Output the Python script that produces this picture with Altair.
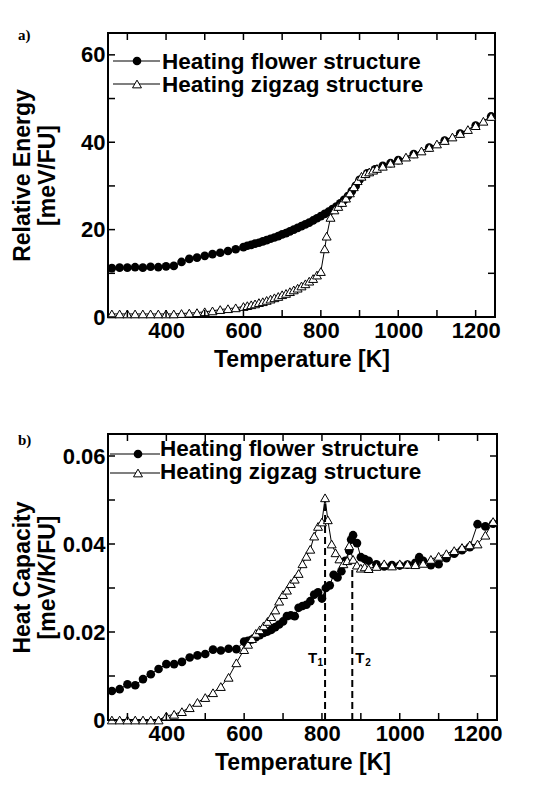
import altair as alt
import pandas as pd

FONT = "Liberation Sans"

# ---------------- panel a: relative energy vs temperature ----------------
temp_flower_a = [260, 280, 300, 320, 340, 360, 380, 400, 420, 440, 460, 480, 500,
                 520, 540, 560, 580, 600, 610, 620, 630, 640, 650, 660, 670, 680,
                 690, 700, 710, 720, 730, 740, 750, 760, 770, 780, 790, 800, 810,
                 820, 830, 840, 850, 860, 870, 880, 890, 900, 920, 940, 960, 980,
                 1000, 1040, 1080, 1120, 1160, 1200, 1240]
energy_flower_a = [11.2, 11.3, 11.3, 11.4, 11.3, 11.5, 11.4, 11.6, 11.7, 12.6, 13.3,
                   13.6, 14.0, 14.4, 14.7, 15.1, 15.5, 16.0, 16.3, 16.5, 16.8, 17.0,
                   17.3, 17.6, 17.9, 18.2, 18.5, 18.9, 19.2, 19.6, 20.0, 20.4, 20.8,
                   21.2, 21.6, 22.1, 22.6, 23.1, 23.6, 24.1, 24.7, 25.3, 26.0, 26.8,
                   27.7, 28.8, 30.0, 31.4, 32.9, 33.8, 34.6, 35.2, 35.9, 37.3, 38.8,
                   40.4, 42.0, 43.8, 45.9]

temp_zigzag_a = [260, 280, 300, 320, 340, 360, 380, 400, 420, 440, 460, 480, 500,
                 520, 540, 560, 580, 600, 610, 620, 630, 640, 650, 660, 670, 680,
                 690, 700, 710, 720, 730, 740, 750, 760, 770, 780, 790, 800, 810,
                 815, 825, 835, 845, 855, 865, 875, 885, 895, 905, 915, 925, 935,
                 945, 960, 980, 1000, 1020, 1040, 1060, 1080, 1100, 1120, 1140,
                 1160, 1180, 1200, 1220, 1240]
energy_zigzag_a = [0.7, 0.7, 0.7, 0.7, 0.7, 0.7, 0.7, 0.7, 0.7, 0.8, 0.9, 1.0, 1.2,
                   1.4, 1.7, 1.9, 2.1, 2.4, 2.6, 2.8, 3.0, 3.3, 3.5, 3.8, 4.1, 4.4,
                   4.7, 5.1, 5.4, 5.8, 6.2, 6.6, 7.1, 7.6, 8.2, 8.8, 9.6, 10.4, 15.6,
                   18.5, 22.8, 24.5, 25.3, 26.2, 27.2, 28.4, 29.8, 31.2, 32.2, 32.8,
                   33.2, 33.6, 34.0, 34.5, 35.2, 35.9, 36.6, 37.3, 38.0, 38.8, 39.6,
                   40.4, 41.2, 42.0, 42.9, 43.8, 44.8, 45.9]

# ---------------- panel b: heat capacity vs temperature ----------------
temp_flower_b = [260, 280, 300, 320, 340, 360, 380, 400, 420, 440, 460, 480, 500,
                 520, 540, 560, 580, 600, 610, 620, 630, 640, 650, 660, 670, 680,
                 690, 700, 710, 720, 730, 740, 750, 760, 770, 780, 790, 800, 810,
                 820, 830, 840, 850, 860, 870, 875, 880, 890, 900, 910, 920, 940,
                 960, 980, 1000, 1020, 1040, 1050, 1060, 1080, 1100, 1120, 1140,
                 1160, 1180, 1200, 1220, 1240]
cap_flower_b = [0.0066, 0.0070, 0.0081, 0.0079, 0.0093, 0.0104, 0.0116, 0.0127,
                0.0127, 0.0132, 0.0142, 0.0147, 0.0150, 0.0160, 0.0158, 0.0162,
                0.0161, 0.0178, 0.0180, 0.0183, 0.0188, 0.0193, 0.0198, 0.0201,
                0.0205, 0.0211, 0.0217, 0.0224, 0.0236, 0.0238, 0.0236, 0.0255,
                0.0259, 0.0262, 0.0270, 0.0285, 0.0290, 0.0276, 0.0300, 0.0306,
                0.0330, 0.0324, 0.0338, 0.0362, 0.0385, 0.0410, 0.0420, 0.0402,
                0.0370, 0.0366, 0.0362, 0.0354, 0.0349, 0.0352, 0.0351, 0.0353,
                0.0357, 0.0370, 0.0362, 0.0352, 0.0354, 0.0368, 0.0378, 0.0386,
                0.0393, 0.0445, 0.0440, 0.0446]

temp_zigzag_b = [260, 280, 300, 320, 340, 360, 380, 400, 420, 440, 460, 480, 500,
                 520, 540, 560, 580, 600, 610, 620, 630, 640, 650, 660, 670, 680,
                 690, 700, 710, 720, 730, 740, 750, 760, 770, 780, 790, 800, 808,
                 815, 825, 835, 845, 855, 865, 870, 880, 890, 900, 910, 920, 940,
                 960, 980, 1000, 1020, 1040, 1060, 1080, 1100, 1120, 1140, 1160,
                 1180, 1200, 1220, 1240]
cap_zigzag_b = [0.0000, 0.0000, 0.0000, 0.0000, 0.0000, 0.0000, 0.0000, 0.0009,
                0.0013, 0.0019, 0.0028, 0.0040, 0.0051, 0.0062, 0.0076, 0.0097,
                0.0130, 0.0160, 0.0172, 0.0185, 0.0197, 0.0205, 0.0214, 0.0224,
                0.0235, 0.0250, 0.0270, 0.0285, 0.0295, 0.0310, 0.0320, 0.0333,
                0.0355, 0.0372, 0.0388, 0.0418, 0.0440, 0.0450, 0.0505, 0.0455,
                0.0400, 0.0380, 0.0366, 0.0355, 0.0362, 0.0396, 0.0365, 0.0352,
                0.0345, 0.0348, 0.0344, 0.0349, 0.0355, 0.0350, 0.0355, 0.0354,
                0.0353, 0.0356, 0.0365, 0.0372, 0.0378, 0.0385, 0.0392, 0.0398,
                0.0400, 0.0420, 0.0451]

# transition temperatures marked in panel b
transition_temps = [808, 878]
transition_tops = [0.0495, 0.0350]
transition_subs = ["1", "2"]

series_labels = ["Heating flower structure", "Heating zigzag structure"]

# axis ticks
temp_labels = [400, 600, 800, 1000, 1200]
temp_ticks = [300, 400, 500, 600, 700, 800, 900, 1000, 1100, 1200]
energy_labels = [0, 20, 40, 60]
energy_ticks = [0, 10, 20, 30, 40, 50, 60]
cap_labels = [0, 0.02, 0.04, 0.06]
cap_ticks = [0, 0.01, 0.02, 0.03, 0.04, 0.05, 0.06]

TICK = 7
LABEL_SIZE = 22
TITLE_SIZE = 23
LEGEND_SIZE = 22.5


def build_panel(t_f, v_f, t_z, v_z, ydomain, ylabels, yticks, ytitle, ylabel_expr,
                width, height, panel_tag, legend_geom, extra_layers=None):
    xscale = alt.Scale(domain=[250, 1250], nice=False, zero=False)
    yscale = alt.Scale(domain=ydomain, nice=False, zero=False)

    xaxis = alt.Axis(values=temp_labels, title="Temperature [K]", labelFont=FONT,
                     labelFontSize=LABEL_SIZE, labelFontWeight="bold",
                     labelColor="black", labelPadding=3, tickSize=0, domain=False,
                     grid=False, titleFont=FONT, titleFontSize=TITLE_SIZE,
                     titleFontWeight="bold", titleColor="black", titleY=42,
                     titleBaseline="middle", format="d")
    yaxis = alt.Axis(values=ylabels, title=ytitle, labelFont=FONT,
                     labelFontSize=LABEL_SIZE, labelFontWeight="bold",
                     labelColor="black", labelPadding=3, tickSize=0, domain=False,
                     grid=False, labelExpr=ylabel_expr, titleFont=FONT,
                     titleFontSize=TITLE_SIZE, titleFontWeight="bold",
                     titleColor="black", titleX=-86, titleY=height / 2,
                     titleAlign="center", titleBaseline="middle", titleLineHeight=25)

    df_f = pd.DataFrame({"T": t_f, "v": v_f})
    df_z = pd.DataFrame({"T": t_z, "v": v_z})

    base_f = alt.Chart(df_f)
    base_z = alt.Chart(df_z)

    x_enc = alt.X("T:Q", scale=xscale, axis=xaxis)
    y_enc = alt.Y("v:Q", scale=yscale, axis=yaxis)

    line_f = base_f.mark_line(color="black", strokeWidth=1).encode(
        x=x_enc, y=y_enc, order="T:Q")
    pts_f = base_f.mark_point(shape="circle", filled=True, color="black", size=75,
                              opacity=1).encode(x="T:Q", y="v:Q")
    line_z = base_z.mark_line(color="black", strokeWidth=1).encode(
        x="T:Q", y="v:Q", order="T:Q")
    pts_z = base_z.mark_point(shape="triangle-up", filled=True, fill="white",
                              stroke="black", strokeWidth=1, size=80,
                              opacity=1).encode(x="T:Q", y="v:Q")

    # inward ticks on all four sides of the frame
    xt = alt.Chart(pd.DataFrame({"T": temp_ticks}))
    yt = alt.Chart(pd.DataFrame({"v": yticks}))
    tick_style = dict(color="black", strokeWidth=1.5)
    ticks = [
        xt.mark_rule(**tick_style).encode(x="T:Q", y=alt.value(height),
                                          y2=alt.value(height - TICK)),
        xt.mark_rule(**tick_style).encode(x="T:Q", y=alt.value(0),
                                          y2=alt.value(TICK)),
        yt.mark_rule(**tick_style).encode(y="v:Q", x=alt.value(0),
                                          x2=alt.value(TICK)),
        yt.mark_rule(**tick_style).encode(y="v:Q", x=alt.value(width),
                                          x2=alt.value(width - TICK)),
    ]

    # legend drawn inside the frame
    legend = []
    one = alt.Chart(pd.DataFrame({"k": [0]}))
    (x0, x1, xm, xtxt), sym_rows, text_rows = legend_geom
    for label, ysym, ytxt, kind in zip(series_labels, sym_rows, text_rows,
                                       ("flower", "zigzag")):
        legend.append(one.mark_rule(color="#555555", strokeWidth=1.5).encode(
            x=alt.value(x0), x2=alt.value(x1), y=alt.value(ysym)))
        if kind == "flower":
            legend.append(one.mark_point(shape="circle", filled=True, color="black",
                                         size=75, opacity=1).encode(
                x=alt.value(xm), y=alt.value(ysym)))
        else:
            legend.append(one.mark_point(shape="triangle-up", filled=True,
                                         fill="white", stroke="black",
                                         strokeWidth=1, size=80, opacity=1).encode(
                x=alt.value(xm), y=alt.value(ysym)))
        legend.append(one.mark_text(align="left", baseline="middle", font=FONT,
                                    fontSize=LEGEND_SIZE, fontWeight="bold",
                                    color="black").encode(
            x=alt.value(xtxt), y=alt.value(ytxt), text=alt.value(label)))

    tag = one.mark_text(align="left", baseline="top", font="Liberation Serif",
                        fontSize=15, fontWeight="bold", color="black").encode(
        x=alt.value(-90), y=alt.value(panel_tag[1]), text=alt.value(panel_tag[0]))

    layers = [line_f, pts_f, line_z, pts_z] + ticks + legend + [tag]
    if extra_layers:
        layers += extra_layers
    return alt.layer(*layers).properties(width=width, height=height)


# dashed markers of the transition temperatures
trans_df = pd.DataFrame({"T": transition_temps, "top": transition_tops,
                         "base": [0.0, 0.0], "sub": transition_subs,
                         "ylab": [0.0140, 0.0140]})
trans = alt.Chart(trans_df)
trans_layers = [
    trans.mark_rule(color="black", strokeWidth=2, strokeDash=[7, 4]).encode(
        x="T:Q", y="base:Q", y2="top:Q"),
    trans.transform_filter("datum.sub == '1'").mark_text(
        align="right", baseline="middle", font=FONT, fontSize=15, fontWeight="bold",
        color="black", dx=-8).encode(x="T:Q", y="ylab:Q", text=alt.value("T")),
    trans.transform_filter("datum.sub == '1'").mark_text(
        align="right", baseline="middle", font=FONT, fontSize=10, fontWeight="bold",
        color="black", dx=-2, dy=5).encode(x="T:Q", y="ylab:Q", text="sub:N"),
    trans.transform_filter("datum.sub == '2'").mark_text(
        align="left", baseline="middle", font=FONT, fontSize=15, fontWeight="bold",
        color="black", dx=3).encode(x="T:Q", y="ylab:Q", text=alt.value("T")),
    trans.transform_filter("datum.sub == '2'").mark_text(
        align="left", baseline="middle", font=FONT, fontSize=10, fontWeight="bold",
        color="black", dx=13, dy=5).encode(x="T:Q", y="ylab:Q", text="sub:N"),
]

top = build_panel(temp_flower_a, energy_flower_a, temp_zigzag_a, energy_zigzag_a,
                  [0, 65], energy_labels, energy_ticks,
                  ["Relative Energy", "[meV/FU]"], "format(datum.value, 'd')",
                  387, 284, ("a)", -5),
                  ((5, 52, 29, 54), (28, 51), (28.5, 52)))

bottom = build_panel(temp_flower_b, cap_flower_b, temp_zigzag_b, cap_zigzag_b,
                     [0, 0.065], cap_labels, cap_ticks,
                     ["Heat Capacity", "[meV/K/FU]"],
                     "datum.value == 0 ? '0' : format(datum.value, '.2f')",
                     389, 286, ("b)", -1),
                     ((2, 52, 30, 52), (20, 39), (14.5, 38)),
                     extra_layers=trans_layers)

chart = alt.vconcat(top, bottom, spacing=117, bounds="flush").properties(
    padding={"left": 10, "top": 27, "right": 10, "bottom": 10},
    background="white",
).configure_view(stroke="black", strokeWidth=2)

chart.save("out.html", embed_options={"renderer": "svg", "actions": False})
